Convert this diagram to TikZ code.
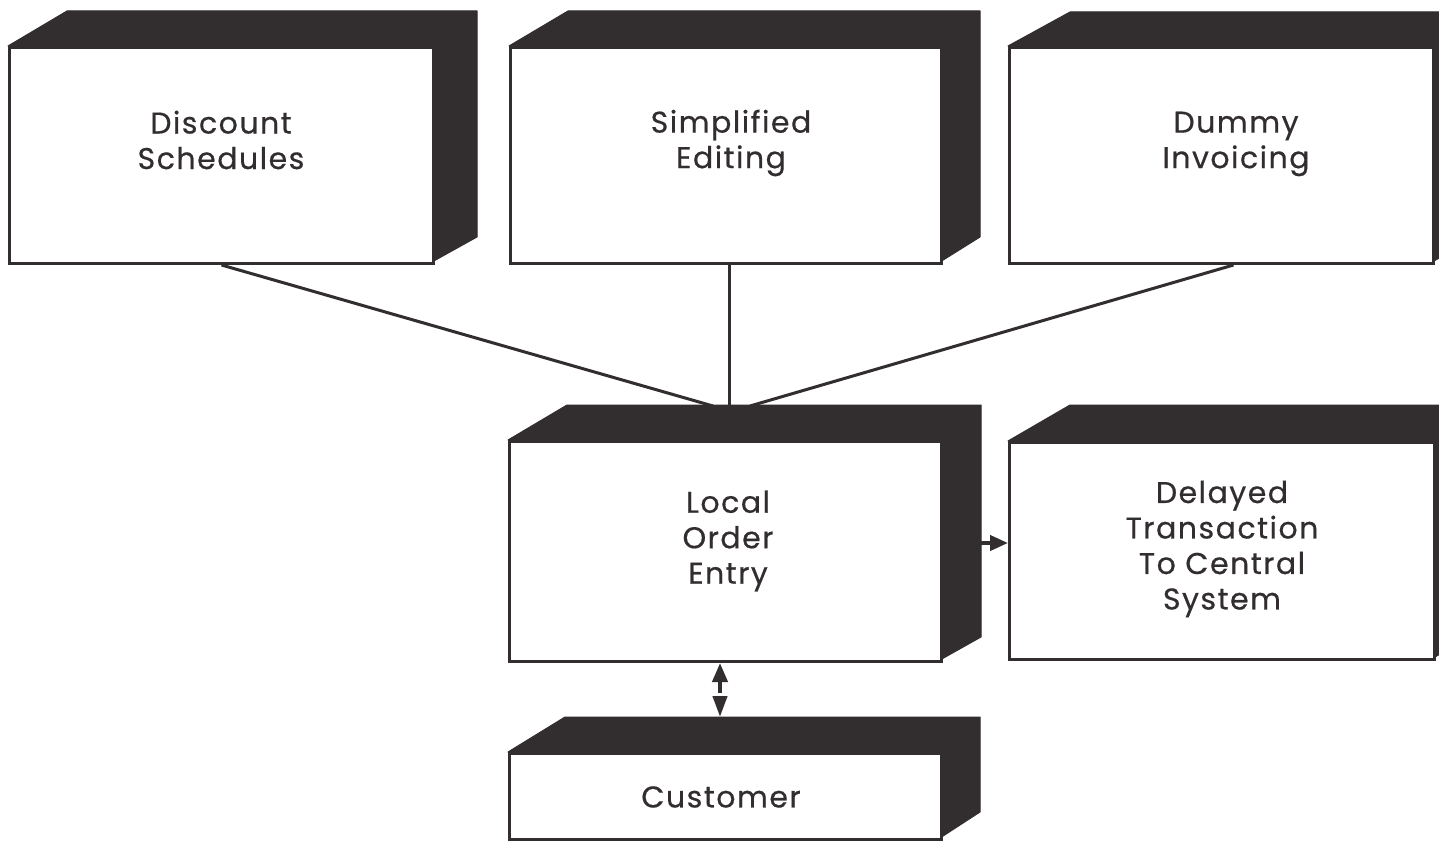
\documentclass[tikz,border=0pt]{standalone}
\usepackage{fontspec}
\setmainfont{Poppins}[LetterSpace=5,FakeBold=0.5]
\usetikzlibrary{arrows.meta,calc}
\definecolor{ink}{RGB}{50,45,46}
\tikzset{
  face/.style={fill=ink, draw=ink, line width=1pt, line join=round},
  front/.style={draw=ink, fill=white, line width=3pt, inner sep=0pt, anchor=north west},
  boxtext/.style={font=\fontsize{30}{35.5}\selectfont, text=ink, align=center, inner sep=0pt},
  link/.style={draw=ink, line width=3pt},
}
% name, x1, y1, x2, y2, back-left x, back-top y, back-right x, back-bottom y
\newcommand{\cubebox}[9]{%
  \fill[face] (#2,#3) -- (#6,#7) -- (#8,#7) -- (#8,#9) -- (#4,#5) -- (#4,#3) -- cycle;
  \node[front, minimum width={(#4-#2)*1pt}, minimum height={(#5-#3)*1pt}] (#1) at (#2,#3) {};
}
\begin{document}
\begin{tikzpicture}[x=1pt,y=-1pt]
\useasboundingbox (0,0) rectangle (1439,842);
\fill[white] (0,0) rectangle (1439,842);
\clip (0,0) rectangle (1439,842);

\cubebox{ds}{8}{46}{432}{262}{67}{11}{477}{237}
\cubebox{se}{509}{46}{940}{262}{568}{11}{980}{237}
\cubebox{di}{1008}{46}{1432}{262}{1070}{12}{1477}{237}
\cubebox{lo}{508}{440}{940}{660}{567}{405}{981}{637}
\cubebox{dt}{1008}{441}{1433}{658}{1070}{405}{1478}{633}
\cubebox{cu}{508}{752}{940}{838}{565}{717}{980}{812}

\node[boxtext] (tds) at (221,140) {Discount\\Schedules};
\node[boxtext] (tse) at (731,143) {Simplified\\Editing};
\node[boxtext] (tdi) at (1236,144) {Dummy\\Invoicing};
\node[boxtext] (tlo) at (728,541) {Local\\Order\\Entry};
\node[boxtext] (tdt) at (1222,549) {Delayed\\Transaction\\To Central\\System};
\node[boxtext] (tcu) at (721,797) {Customer};

\coordinate (j1) at (713,406);
\coordinate (j2) at (729,406);
\coordinate (j3) at (750,406);
\coordinate (ay) at (0,543);
\coordinate (cutop) at (720,717);

\draw[link] (ds.south) -- (j1);
\draw[link] (se.south -| j2) -- (j2);
\draw[link] ($(di.south)+(12,0)$) -- (j3);

\draw[draw=ink, line width=4pt, -{Triangle[length=18pt,width=15pt]}] (lo.east |- ay) -- (dt.west |- ay);
\draw[draw=ink, line width=4pt, {Triangle[length=19pt,width=15pt]}-{Triangle[length=21pt,width=14pt]}, dash pattern=on 12pt off 5pt] (lo.south -| cutop) -- (cutop);
\end{tikzpicture}
\end{document}
